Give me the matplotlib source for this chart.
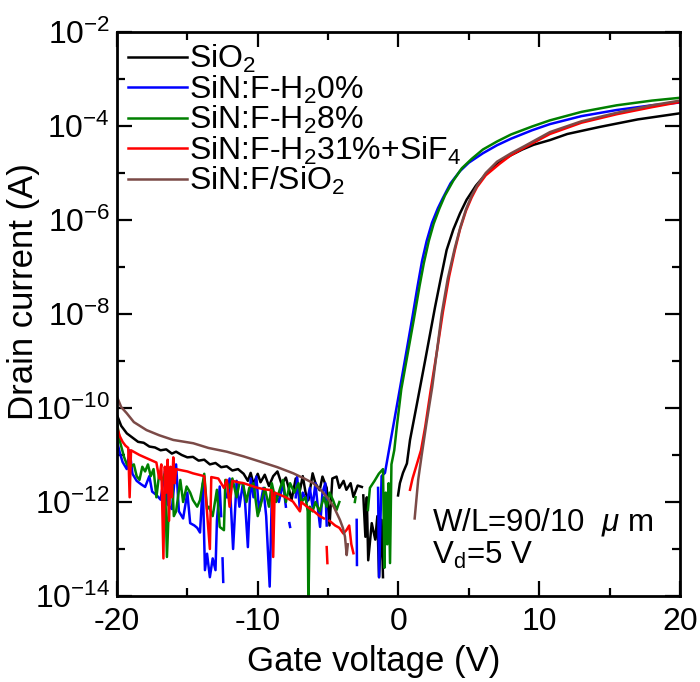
import numpy as np
import matplotlib
matplotlib.use("Agg")
import matplotlib.pyplot as plt
from matplotlib.ticker import FixedLocator, FuncFormatter

plt.rcParams['font.family'] = ['Liberation Sans', 'DejaVu Sans']
plt.rcParams['mathtext.fontset'] = 'custom'
plt.rcParams['mathtext.rm'] = 'Liberation Sans'
plt.rcParams['mathtext.it'] = 'Liberation Sans:italic'
plt.rcParams['mathtext.bf'] = 'Liberation Sans:bold'
plt.rcParams['axes.unicode_minus'] = False

nan = np.nan

# ---- data: gate voltage (V) and log10 of drain current (A) ----
sio2_v = [-20, -19.7, -19.3, -18.9, -18.5, -18.1, -17.7, -17.3, -16.9, -16.5, -16.1, -15.8, -15.4, -15.0,
          -14.6, -14.2, -13.8, -13.4, -13.0, -12.6, -12.2, -11.8, -11.4, -11.0, -10.7, -10.5, -10.3, -10.0,
          -9.8, -9.5, -9.2, -8.9, -8.6, -8.3, -8.0, -7.8, -7.6, -7.3, -7.0, -6.8, -6.6, -6.4, -6.1, -5.9,
          -5.6, -5.4, -5.1, -4.9, -4.7, -4.4, -4.2, -3.9, -3.7, -3.4, -3.2, -2.9, -2.6, nan,
          -2.5, -2.35, -2.25, -2.15, -1.9, -1.65, -1.5, -1.38, -1.2, -1.1, nan,
          -0.03, 0.1, 0.32, 0.6, 0.82, 1.3, 1.9, 2.6, 3.0, 3.42, 3.9, 4.37, 4.84, 5.5, 6.1, 6.7, 7.3, 8.0,
          8.8, 9.6, 10.76, 12, 14.3, 17, 20]
sio2_log = [-10.15, -10.38, -10.54, -10.63, -10.72, -10.74, -10.82, -10.84, -10.90, -10.88, -10.97, -10.93,
            -11.0, -11.05, -11.04, -11.12, -11.1, -11.2, -11.17, -11.26, -11.24, -11.33, -11.3, -11.4,
            -11.55, -11.38, -11.62, -11.4, -11.58, -11.42, -11.66, -11.45, -11.35, -11.62, -11.48, -11.7,
            -11.96, -11.5, -11.75, -11.45, -11.8, -11.96, -11.39, -11.6, -11.75, -11.46, -11.7, -12.5,
            -11.5, -11.46, -11.7, -11.55, -11.74, -11.6, -11.89, -11.65, -11.68, nan,
            -11.86, -12.74, -11.9, -13.24, -12.45, -12.8, -12.3, -13.6, -12.38, -13.6, nan,
            -11.86, -11.6, -11.38, -11.18, -10.68, -9.93, -8.98, -7.85, -7.25, -6.64, -6.2, -5.86, -5.57,
            -5.27, -5.06, -4.88, -4.74, -4.62, -4.5, -4.4, -4.3, -4.17, -4.02, -3.86, -3.73]

h0_v = [-20, -19.8, -19.6, -19.3, -19.1, -18.9, -18.6, -18.3, -18.0, -17.7, -17.5, -17.2, -16.9, -16.6,
        -16.4, -16.1, -15.8, -15.6, -15.3, -15.0, -14.8, -14.5, -14.3, -14.1, -13.9, -13.75, -13.6, -13.4,
        -13.2, -13.0, -12.9, -12.7, -12.6, nan, -12.5, -12.45, nan,
        -12.2, -12.0, -11.75, -11.5, -11.3, -11.05, -10.9, -10.7, -10.5, -10.3, -10.1, -9.9, -9.6, -9.4,
        -9.15, -9.0, -8.8, -8.5, -8.2, -8.0, nan, -7.75, -7.7, nan,
        -7.3, -7.2, -7.0, -6.8, -6.5, -6.3, -6.1, -5.9, -5.7, -5.57, -5.4, -5.2, -5.1, nan,
        -2.97, -2.95, nan,
        -1.45, -1.38, -1.2, -0.96, -0.5, 0, 0.5, 1.0, 1.35, 1.67, 2.0, 2.38, 2.8, 3.16, 3.7, 4.37, 5.0, 6.0,
        7.0, 8.0, 9.5, 10.76, 13, 15.5, 18, 20]
h0_log = [-10.7, -10.95, -11.15, -11.3, -10.9, -11.4, -11.55, -11.62, -11.68, -11.45, -11.78, -11.85,
          -11.95, -11.35, -12.05, -12.15, -11.2, -12.2, -12.35, -11.8, -12.45, -12.5, -12.55, -12.65,
          -11.6, -13.45, -13.1, -13.6, -13.2, -13.45, -12.4, -11.67, -12.3, nan, -13.2, -13.7, nan,
          -11.9, -11.5, -13.0, -11.55, -12.1, -11.6, -12.0, -12.96, -11.5, -11.9, -11.46, -12.2, -11.7,
          -12.3, -13.8, -11.9, -11.8, -12.0, -11.6, -12.1, nan, -12.45, -12.53, nan,
          -11.9, -11.46, -12.17, -11.8, -12.0, -11.7, -12.1, -11.6, -12.2, -12.53, -11.8, -11.6, -12.5, nan,
          -12.38, -13.34, nan,
          -11.7, -13.6, -11.45, -11.38, -10.6, -9.76, -8.91, -8.05, -7.42, -6.88, -6.45, -6.06, -5.75,
          -5.53, -5.22, -4.96, -4.78, -4.58, -4.41, -4.27, -4.09, -3.96, -3.79, -3.66, -3.56, -3.5]

h8_v = [-20, -19.8, -19.5, -19.3, -19.05, -18.8, -18.6, -18.4, -18.2, -18.0, -17.8, -17.6, -17.4, -17.2,
        -17.0, -16.8, -16.6, -16.45, -16.3, -16.1, -15.96, -15.8, -15.5, -15.3, -15.05, -14.8, -14.6, -14.3,
        -14.1, -13.8, -13.6, -13.47, -13.2, -12.9, -12.7, -12.4, -12.3, -12.0, -11.8, -11.5, -11.3, -11.05,
        -10.8, -10.6, -10.3, -10.0, -9.7, -9.5, -9.2, -9.0, -8.7, -8.4, -8.2, -8.0, -7.7, -7.4, -7.1, -6.9,
        -6.6, -6.45, -6.4, -6.3, -6.1, -5.9, -5.6, -5.3, -5.1, -4.9, -4.65, -4.4, -4.2, nan,
        -3.1, -3.05, nan,
        -2.17, -2.03, -1.7, -1.4, -1.1, -1.0, -0.9, -0.8, -0.7, -0.6, -0.5, -0.3, -0.1, 0.2, 0.5, 1.1, 1.5,
        1.8, 2.15, 2.5, 2.9, 3.3, 3.9, 4.5, 5.2, 6, 7, 8, 9.5, 10.76, 13, 15.5, 18, 20]
h8_log = [-10.3, -10.7, -11.04, -11.2, -11.25, -11.2, -11.45, -11.53, -11.25, -11.35, -11.2, -11.45, -11.3,
          -11.9, -11.4, -11.55, -11.4, -13.17, -12.0, -11.4, -12.3, -12.2, -11.53, -12.0, -11.67, -11.8,
          -11.96, -12.1, -11.96, -11.4, -12.15, -12.1, -12.3, -11.74, -12.53, -12.6, -11.53, -11.7, -11.5,
          -11.9, -11.6, -11.6, -12.0, -11.7, -11.6, -12.3, -11.96, -11.7, -12.1, -11.6, -12.0, -11.7,
          -11.53, -12.0, -11.6, -11.8, -11.6, -12.0, -11.9, -12.2, -14.3, -12.1, -12.2, -12.0, -12.2,
          -11.9, -12.1, -11.8, -11.96, -12.17, -12.0, nan,
          -12.0, -11.9, nan,
          -12.17, -11.7, -11.55, -11.4, -11.3, -13.4, -11.8, -12.9, -11.6, -13.3, -11.2, -10.9, -10.35,
          -9.6, -9.1, -8.1, -7.4, -6.92, -6.45, -6.08, -5.76, -5.48, -5.16, -4.9, -4.7, -4.5, -4.33, -4.18,
          -4.01, -3.88, -3.7, -3.56, -3.46, -3.4]

h31_v = [-20, -19.8, -19.6, -19.4, -19.2, -19.1, -19.0, -18.7, -18.4, -18.1, -17.8, -17.5, -17.2, -17.0,
         -16.85, -16.7, -16.6, -16.5, -16.4, -16.3, -16.2, -16.1, -16.0, -15.9, -15.8, -15.5, -15.0, -14.6,
         -14.2, -13.8, -13.4, -13.3, -12.8, -12.4, -12.2, -12.0, -11.8, -11.4, -11.0, -10.5, -10.0, -9.5,
         -9.0, -8.9, -8.8, -8.4, -8.0, -7.5, -7.0, -6.9, -6.5, -6.0, -5.6, -5.3, nan, -5.1, -5.05, nan,
         -4.9, -4.5, -4.2, -3.92, -3.7, -3.5, -3.35, -3.2, nan,
         0.82, 1.0, 1.3, 1.6, 1.9, 2.3, 2.73, 3.16, 3.6, 4.0, 4.37, 4.8, 5.2, 5.58, 6.2, 7.2, 8.0, 9.0,
         10.76, 13, 15.5, 18, 20]
h31_log = [-10.4, -10.6, -10.72, -10.8, -10.85, -11.9, -10.9, -10.95, -11.0, -11.04, -11.08, -11.12, -11.16,
           -11.5, -11.2, -13.2, -11.25, -11.8, -11.1, -12.4, -11.25, -11.9, -11.05, -11.6, -11.3, -11.32,
           -11.35, -11.39, -11.42, -11.45, -13.0, -11.47, -11.5, -11.7, -11.53, -12.1, -11.55, -11.58,
           -11.6, -11.65, -11.7, -11.73, -11.75, -13.17, -11.8, -11.85, -11.9, -11.99, -12.2, -12.0,
           -12.1, -12.2, -12.3, -12.35, nan, -12.96, -13.3, nan,
           -12.4, -12.5, -12.55, -12.67, -12.6, -12.5, -12.9, -13.09, nan,
           -11.74, -11.5, -11.2, -10.9, -10.4, -9.6, -8.8, -7.95, -7.2, -6.65, -6.2, -5.8, -5.52, -5.3,
           -5.05, -4.8, -4.62, -4.45, -4.17, -3.93, -3.75, -3.6, -3.49]

sinf_v = [-20, -19.7, -19.31, -18.8, -17.9, -17, -16, -14.58, -13.5, -12.2, -11, -9.84, -8.6, -7.47, -6.7,
          -6.05, -5.5, -5.1, -4.6, -4.16, -3.95, -3.8, -3.68, -3.6, nan,
          1.15, 1.4, 1.65, 2.0, 2.4, 2.75, 3.07, 3.5, 4.0, 4.4, 4.8, 5.2, 5.6, 6.2, 7.0, 8.0, 9.0, 10.76,
          13, 15.5, 18, 20]
sinf_log = [-9.76, -9.98, -10.11, -10.3, -10.47, -10.58, -10.68, -10.75, -10.85, -10.93, -11.03, -11.14,
            -11.26, -11.39, -11.5, -11.6, -11.75, -11.89, -12.1, -12.38, -12.55, -12.74, -13.13, -12.9, nan,
            -12.35, -11.53, -11.0, -10.3, -9.55, -8.75, -8.0, -7.25, -6.6, -6.15, -5.77, -5.48, -5.26,
            -5.0, -4.76, -4.58, -4.42, -4.13, -3.9, -3.72, -3.56, -3.46]

labels = [r'SiO$_\mathregular{2}$', r'SiN:F-H$_\mathregular{2}$0%', r'SiN:F-H$_\mathregular{2}$8%',
          r'SiN:F-H$_\mathregular{2}$31%+SiF$_\mathregular{4}$', r'SiN:F/SiO$_\mathregular{2}$']
colors = ['#000000', '#0000ff', '#008000', '#ff0000', '#7b4a47']
series = [(sio2_v, sio2_log), (h0_v, h0_log), (h8_v, h8_log), (h31_v, h31_log), (sinf_v, sinf_log)]

fig = plt.figure(figsize=(7.0, 6.82), dpi=100)
ax = fig.add_axes([0.1671, 0.1261, 0.8043, 0.827])

for (v, lg), c, lab in zip(series, colors, labels):
    ax.plot(np.array(v, dtype=float), 10.0 ** np.array(lg, dtype=float), color=c, lw=1.8, label=lab)

ax.set_yscale('log')
ax.set_xlim(-20, 20)
ax.set_ylim(1e-14, 1e-2)

ax.xaxis.set_major_locator(FixedLocator([-20, -10, 0, 10, 20]))
ax.xaxis.set_minor_locator(FixedLocator([-15, -5, 5, 15]))
ax.yaxis.set_major_locator(FixedLocator([1e-14, 1e-12, 1e-10, 1e-8, 1e-6, 1e-4, 1e-2]))
ax.yaxis.set_minor_locator(FixedLocator([1e-13, 1e-11, 1e-9, 1e-7, 1e-5, 1e-3]))
ax.yaxis.set_major_formatter(FuncFormatter(lambda y, p: r'$\mathregular{10^{%d}}$' % int(round(np.log10(y)))))
ax.yaxis.set_minor_formatter(FuncFormatter(lambda y, p: ''))
ax.xaxis.set_major_formatter(FuncFormatter(lambda x, p: '%d' % x))

ax.tick_params(which='both', direction='in', top=True, right=True, width=1.6, labelsize=23)
ax.tick_params(which='major', length=11)
ax.tick_params(axis='y', which='major', pad=5)
ax.tick_params(axis='x', which='major', pad=8)
ax.tick_params(which='minor', length=6)
for s in ax.spines.values():
    s.set_linewidth(2.0)

ax.set_xlabel('Gate voltage (V)', fontsize=25)
ax.set_ylabel('Drain current (A)', fontsize=25)
ax.xaxis.set_label_coords(0.456, -0.087)
ax.yaxis.set_label_coords(-0.137, 0.539)

leg = ax.legend(loc='upper left', bbox_to_anchor=(0.0, 1.0), frameon=False, fontsize=23,
                handlelength=1.85, handletextpad=0.05, labelspacing=-0.05, borderpad=0.0,
                borderaxespad=0.35)

ax.text(0.5595, 0.131, r'W/L=90/10  $\mu$ m', transform=ax.transAxes, fontsize=22.5, va='center', ha='left')
ax.text(0.5595, 0.072, r'V$_\mathregular{d}$=5 V', transform=ax.transAxes, fontsize=22.5, va='center', ha='left')

fig.savefig('out.png', dpi=100)
